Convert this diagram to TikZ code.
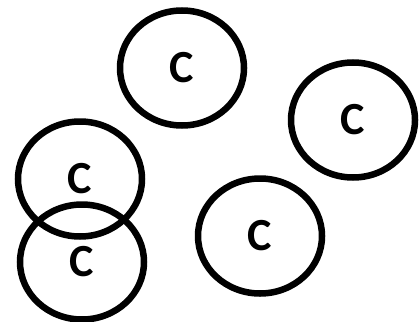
\documentclass[tikz,border=0pt]{standalone}
\usepackage{fontspec}
\setmainfont{Carlito}
\usetikzlibrary{shapes.geometric}

\begin{document}
\begin{tikzpicture}[x=1pt, y=1pt,
	cell/.style={ellipse, draw=black, line width=6.5pt, minimum width=124pt, minimum height=115pt, inner sep=0pt, font=\fontsize{46}{48}\selectfont\bfseries}]
	\useasboundingbox (0,0) rectangle (419,-321);
	\node[cell] (CT) at (182,-68) {C};
	\node[cell] (CR) at (353,-120) {C};
	\node[cell] (CL) at (80,-179) {C};
	\node[cell] (CB) at (82,-262) {C};
	\node[cell] (CM) at (260,-236) {C};
\end{tikzpicture}
\end{document}
